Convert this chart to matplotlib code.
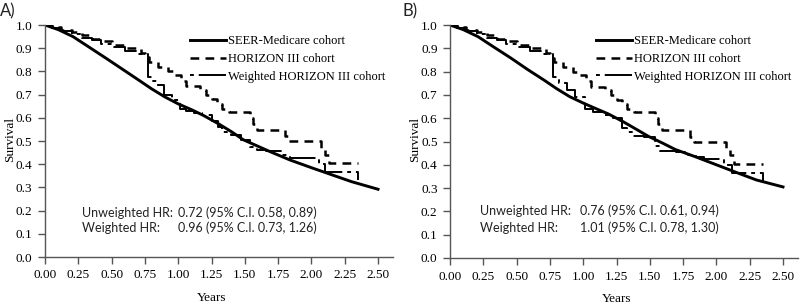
import matplotlib
matplotlib.use("Agg")
import matplotlib.pyplot as plt
import numpy as np

# ---------------- data ----------------
x_ticks = [0.00, 0.25, 0.50, 0.75, 1.00, 1.25, 1.50, 1.75, 2.00, 2.25, 2.50]
y_ticks = [0.0, 0.1, 0.2, 0.3, 0.4, 0.5, 0.6, 0.7, 0.8, 0.9, 1.0]

# SEER-Medicare cohort (panel A)
seer_a_t = [0.00, 0.10, 0.21, 0.33, 0.46, 0.58, 0.71, 0.80, 0.90, 1.00, 1.10, 1.19,
            1.30, 1.40, 1.49, 1.60, 1.69, 1.84, 2.00, 2.16, 2.30, 2.50]
seer_a_s = [1.000, 0.980, 0.950, 0.905, 0.856, 0.810, 0.760, 0.725, 0.690, 0.660, 0.635, 0.610,
            0.575, 0.540, 0.505, 0.477, 0.454, 0.418, 0.385, 0.353, 0.325, 0.292]
# SEER-Medicare cohort (panel B)
seer_b_t = [0.00, 0.10, 0.21, 0.33, 0.46, 0.58, 0.71, 0.80, 0.90, 1.00, 1.10, 1.19,
            1.30, 1.40, 1.49, 1.60, 1.69, 1.84, 2.00, 2.16, 2.30, 2.50]
seer_b_s = [1.000, 0.980, 0.950, 0.905, 0.857, 0.810, 0.762, 0.727, 0.692, 0.665, 0.640, 0.618,
            0.585, 0.552, 0.522, 0.492, 0.466, 0.435, 0.400, 0.365, 0.335, 0.305]

# HORIZON III cohort (unweighted KM, step)
hor_t = [0.00, 0.05, 0.12, 0.20, 0.28, 0.35, 0.42, 0.50, 0.60, 0.72, 0.75, 0.78, 0.85, 0.92,
         0.97, 1.02, 1.06, 1.16, 1.21, 1.25, 1.29, 1.33, 1.38, 1.54, 1.56, 1.59, 1.80, 1.83,
         2.07, 2.10, 2.13, 2.35]
hor_s = [1.000, 0.990, 0.980, 0.970, 0.955, 0.940, 0.930, 0.915, 0.900, 0.880, 0.860, 0.840,
         0.820, 0.800, 0.785, 0.760, 0.735, 0.720, 0.700, 0.680, 0.660, 0.640, 0.625, 0.600,
         0.575, 0.548, 0.520, 0.498, 0.470, 0.440, 0.404, 0.404]

# Weighted HORIZON III cohort (panel A)
wa_t = [0.00, 0.05, 0.12, 0.20, 0.28, 0.35, 0.42, 0.50, 0.60, 0.70, 0.77, 0.80, 0.84, 0.89,
        0.95, 1.01, 1.06, 1.12, 1.18, 1.25, 1.30, 1.33, 1.40, 1.47, 1.54, 1.59, 1.66, 1.79,
        1.84, 2.06, 2.10, 2.35, 2.35]
wa_s = [1.000, 0.985, 0.975, 0.960, 0.945, 0.935, 0.920, 0.905, 0.890, 0.875, 0.775, 0.760,
        0.740, 0.700, 0.675, 0.640, 0.630, 0.622, 0.610, 0.585, 0.560, 0.540, 0.525, 0.505,
        0.475, 0.460, 0.455, 0.440, 0.425, 0.400, 0.368, 0.330, 0.330]

# Weighted HORIZON III cohort (panel B)
wb_t = [0.00, 0.05, 0.12, 0.20, 0.28, 0.35, 0.42, 0.50, 0.60, 0.70, 0.77, 0.82, 0.88, 0.94,
        1.01, 1.07, 1.15, 1.22, 1.29, 1.33, 1.37, 1.46, 1.54, 1.58, 1.70, 1.78, 1.85, 1.91,
        2.06, 2.12, 2.35, 2.35]
wb_s = [1.000, 0.985, 0.975, 0.960, 0.945, 0.935, 0.920, 0.905, 0.890, 0.875, 0.778, 0.750,
        0.720, 0.690, 0.640, 0.625, 0.615, 0.600, 0.560, 0.540, 0.525, 0.520, 0.480, 0.460,
        0.455, 0.440, 0.435, 0.424, 0.400, 0.366, 0.330, 0.330]

panel_labels = ["A)", "B)"]
series_labels = ["SEER-Medicare cohort", "HORIZON III cohort", "Weighted HORIZON III cohort"]
hr_labels = ["Unweighted HR:", "Weighted HR:"]
hr_values_a = ["0.72 (95% C.I. 0.58, 0.89)", "0.96 (95% C.I. 0.73, 1.26)"]
hr_values_b = ["0.76 (95% C.I. 0.61, 0.94)", "1.01 (95% C.I. 0.78, 1.30)"]

# ---------------- figure ----------------
W, H = 800, 307
fig = plt.figure(figsize=(W / 100, H / 100), dpi=100)

serif = "Liberation Serif"
sans = ["Lato", "DejaVu Sans"]
spine_col = "#555555"

def px_axes(l, t, r, b):
    return fig.add_axes([l / W, 1 - b / H, (r - l) / W, (b - t) / H])

panels = [
    dict(rect=(45, 25, 393, 257), seer=(seer_a_t, seer_a_s), w=(wa_t, wa_s),
         hrv=hr_values_a, label_x=0, hr_x=(82, 178), hr_y=(213, 228), leg_x=190),
    dict(rect=(450, 25, 798, 258), seer=(seer_b_t, seer_b_s), w=(wb_t, wb_s),
         hrv=hr_values_b, label_x=403, hr_x=(480, 580), hr_y=(211, 228), leg_x=596),
]

for i, p in enumerate(panels):
    l, t, r, b = p["rect"]
    ax = px_axes(l, t, r, b)
    xmax = 2.5 * (r - l) / (378 - 45)
    ax.set_xlim(0, xmax)
    ax.set_ylim(0, 1.0)

    h1, = ax.plot(p["seer"][0], p["seer"][1], color="black", lw=2.1,
                  solid_joinstyle="round", label=series_labels[0])
    h2, = ax.step(hor_t, hor_s, where="post", color="black", lw=1.8,
                  linestyle=(0, (3.5, 2.5)), label=series_labels[1])
    h3, = ax.step(p["w"][0], p["w"][1], where="post", color="black", lw=1.4,
                  linestyle=(0, (2, 2.5, 14, 2.5)), label=series_labels[2])

    for s in ["top", "right"]:
        ax.spines[s].set_visible(False)
    for s in ["left", "bottom"]:
        ax.spines[s].set_color(spine_col)
        ax.spines[s].set_linewidth(1.0)
    ax.set_xticks(x_ticks)
    ax.set_xticklabels([f"{v:.2f}" for v in x_ticks])
    ax.set_yticks(y_ticks)
    ax.set_yticklabels([f"{v:.1f}" for v in y_ticks])
    ax.tick_params(axis="both", direction="out", length=5, width=1.0, color=spine_col,
                   labelsize=9.5, pad=4)
    for lab in ax.get_xticklabels() + ax.get_yticklabels():
        lab.set_fontfamily(serif)

    ax.set_xlabel("Years", fontfamily=serif, fontsize=9.5)
    ax.xaxis.set_label_coords(1.25 / xmax, -0.15)
    ax.set_ylabel("Survival", fontfamily=serif, fontsize=9.5)
    ax.yaxis.set_label_coords(-29 / (r - l), (b - 140) / (b - t))

    ax.legend(handles=[h1, h2, h3], loc="upper left",
              bbox_to_anchor=((p["leg_x"] - l) / (r - l), 1.0 - 10 / (b - t)),
              frameon=False, prop={"family": serif, "size": 9},
              handlelength=2.9, handletextpad=0.1, labelspacing=0.47,
              borderaxespad=0.0, borderpad=0.0)

    fig.text(p["label_x"] / W, 1 - 11 / H, panel_labels[i], fontfamily=sans,
             fontsize=12, va="center", ha="left", color="#222222")

    for k in range(2):
        fig.text(p["hr_x"][0] / W, 1 - p["hr_y"][k] / H, hr_labels[k], fontfamily=sans,
                 fontsize=9, va="center", ha="left", color="#222222")
        fig.text(p["hr_x"][1] / W, 1 - p["hr_y"][k] / H, p["hrv"][k], fontfamily=sans,
                 fontsize=9, va="center", ha="left", color="#222222")

fig.savefig("out.png", dpi=100)
